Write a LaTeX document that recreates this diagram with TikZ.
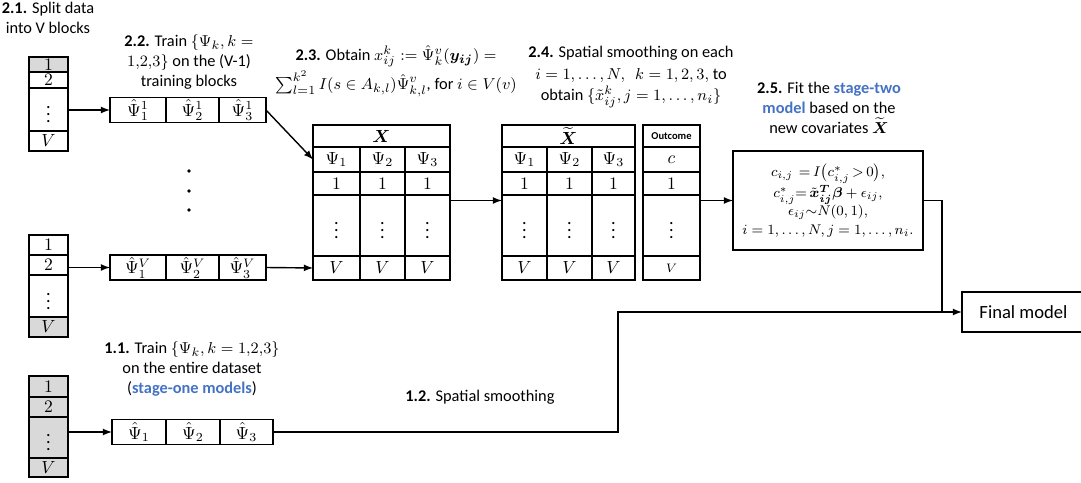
\documentclass[tikz,border=0pt]{standalone}
\usepackage{amsmath,amssymb}
\usepackage{fontspec}
\setmainfont{Carlito}
\usetikzlibrary{arrows,positioning}
\definecolor{stageblue}{RGB}{68,114,196}

\begin{document}
\begin{tikzpicture}[x=0.02cm, y=-0.02cm, line width=0.8pt,
    font=\fontsize{9.3}{11.3}\selectfont,
    cell/.style={draw, inner sep=0pt, outer sep=0pt, font=\fontsize{10.3}{12}\selectfont},
    blk/.style={cell, minimum width=0.78cm},
    est/.style={cell, minimum height=0.5cm},
    hdr/.style={cell, minimum height=0.44cm},
    rpsi/.style={cell, minimum height=0.5cm},
    rone/.style={cell, minimum height=0.46cm},
    rdots/.style={cell, minimum height=1.22cm},
    rlast/.style={cell, minimum height=0.48cm},
    grey/.style={fill=gray!30},
    lbl/.style={align=center}]
    \useasboundingbox (0,0) rectangle (1081,483);

    % data blocks
    \node[blk, grey, minimum height=0.3cm, anchor=north west] (a1) at (29,57) {$1$};
    \node[blk, minimum height=0.32cm, below=0pt of a1] (a2) {$2$};
    \node[blk, minimum height=0.86cm, below=0pt of a2] (a3) {$\vdots$};
    \node[blk, minimum height=0.4cm, below=0pt of a3] (a4) {$V$};

    \node[blk, minimum height=0.4cm, anchor=north west] (b1) at (29,235) {$1$};
    \node[blk, minimum height=0.4cm, below=0pt of b1] (b2) {$2$};
    \node[blk, minimum height=0.84cm, below=0pt of b2] (b3) {$\vdots$};
    \node[blk, grey, minimum height=0.4cm, below=0pt of b3] (b4) {$V$};

    \node[blk, grey, minimum height=0.42cm, anchor=north west] (c1) at (29,376) {$1$};
    \node[blk, grey, minimum height=0.4cm, below=0pt of c1] (c2) {$2$};
    \node[blk, grey, minimum height=0.82cm, below=0pt of c2] (c3) {$\vdots$};
    \node[blk, grey, minimum height=0.38cm, below=0pt of c3] (c4) {$V$};

    % trained models
    \node[est, minimum width=1.12cm, anchor=west] (pa1) at (110,110) {$\hat{\Psi}_1^1$};
    \node[est, minimum width=1.06cm, right=0pt of pa1] (pa2) {$\hat{\Psi}_2^1$};
    \node[est, minimum width=0.94cm, right=0pt of pa2] (pa3) {$\hat{\Psi}_3^1$};

    \node[est, minimum width=1.12cm, anchor=west] (pb1) at (110,267.5) {$\hat{\Psi}_1^V$};
    \node[est, minimum width=1.06cm, right=0pt of pb1] (pb2) {$\hat{\Psi}_2^V$};
    \node[est, minimum width=0.94cm, right=0pt of pb2] (pb3) {$\hat{\Psi}_3^V$};

    \node[est, minimum width=1.08cm, anchor=west] (pc1) at (112,432) {$\hat{\Psi}_1$};
    \node[est, minimum width=1.08cm, right=0pt of pc1] (pc2) {$\hat{\Psi}_2$};
    \node[est, minimum width=1.06cm, right=0pt of pc2] (pc3) {$\hat{\Psi}_3$};

    \fill (189,171) circle (1.1pt);
    \fill (189,191) circle (1.1pt);
    \fill (189,210) circle (1.1pt);

    % table X
    \node[hdr, minimum width=2.74cm, anchor=north west] (xh) at (313,125) {$\boldsymbol{X}$};
    \node[rpsi, minimum width=0.94cm, anchor=north west] (xp1) at (xh.south west) {$\Psi_1$};
    \node[rpsi, minimum width=0.9cm, right=0pt of xp1] (xp2) {$\Psi_2$};
    \node[rpsi, minimum width=0.9cm, right=0pt of xp2] (xp3) {$\Psi_3$};
    \node[rone, minimum width=0.94cm, anchor=north west] (xo1) at (xp1.south west) {$1$};
    \node[rone, minimum width=0.9cm, right=0pt of xo1] (xo2) {$1$};
    \node[rone, minimum width=0.9cm, right=0pt of xo2] (xo3) {$1$};
    \node[rdots, minimum width=0.94cm, anchor=north west] (xd1) at (xo1.south west) {$\vdots$};
    \node[rdots, minimum width=0.9cm, right=0pt of xd1] (xd2) {$\vdots$};
    \node[rdots, minimum width=0.9cm, right=0pt of xd2] (xd3) {$\vdots$};
    \node[rlast, minimum width=0.94cm, anchor=north west] (xv1) at (xd1.south west) {$V$};
    \node[rlast, minimum width=0.9cm, right=0pt of xv1] (xv2) {$V$};
    \node[rlast, minimum width=0.9cm, right=0pt of xv2] (xv3) {$V$};

    % table X tilde
    \node[hdr, minimum width=2.66cm, anchor=north west] (th) at (502,125) {$\widetilde{\boldsymbol{X}}$};
    \node[rpsi, minimum width=0.9cm, anchor=north west] (tp1) at (th.south west) {$\Psi_1$};
    \node[rpsi, minimum width=0.9cm, right=0pt of tp1] (tp2) {$\Psi_2$};
    \node[rpsi, minimum width=0.86cm, right=0pt of tp2] (tp3) {$\Psi_3$};
    \node[rone, minimum width=0.9cm, anchor=north west] (to1) at (tp1.south west) {$1$};
    \node[rone, minimum width=0.9cm, right=0pt of to1] (to2) {$1$};
    \node[rone, minimum width=0.86cm, right=0pt of to2] (to3) {$1$};
    \node[rdots, minimum width=0.9cm, anchor=north west] (td1) at (to1.south west) {$\vdots$};
    \node[rdots, minimum width=0.9cm, right=0pt of td1] (td2) {$\vdots$};
    \node[rdots, minimum width=0.86cm, right=0pt of td2] (td3) {$\vdots$};
    \node[rlast, minimum width=0.9cm, anchor=north west] (tv1) at (td1.south west) {$V$};
    \node[rlast, minimum width=0.9cm, right=0pt of tv1] (tv2) {$V$};
    \node[rlast, minimum width=0.86cm, right=0pt of tv2] (tv3) {$V$};

    % outcome
    \node[hdr, minimum width=1.14cm, anchor=north west, font=\fontsize{6}{7}\selectfont\bfseries] (oh) at (643,125) {Outcome};
    \node[rpsi, minimum width=1.14cm, below=0pt of oh] (op) {$c$};
    \node[rone, minimum width=1.14cm, below=0pt of op] (oo) {$1$};
    \node[rdots, minimum width=1.14cm, below=0pt of oo] (od) {$\vdots$};
    \node[rlast, minimum width=1.14cm, below=0pt of od] (ov) {$\scriptstyle V$};

    % stage-two model and final model
    \node[cell, minimum width=3.8cm, minimum height=1.98cm, anchor=north west, align=center,
        font=\fontsize{8.5}{10.4}\selectfont] (model) at (733,151)
        {\thickmuskip=3mu \medmuskip=2mu \thinmuskip=2mu
         $c_{i,j}\ = I\bigl(c^*_{i,j}>0\bigr),$\\
         $c^*_{i,j}{=}\,\tilde{\boldsymbol{x}}_{\boldsymbol{ij}}^{\boldsymbol{T}}\boldsymbol{\beta}+\epsilon_{ij},$\\
         $\epsilon_{ij}{\sim}N(0,1),$\\
         $i=1,\dots,N, j=1,\dots,n_i.$};
    \node[cell, minimum width=2.46cm, minimum height=0.8cm, anchor=west,
        font=\fontsize{10.6}{12}\selectfont] (final) at (962,312) {Final model};
    \coordinate (join) at (942,312);
    \coordinate (bend) at (618,312);

    % labels
    \node[lbl] (t21) at (48,18) {\textbf{2.1.} Split data\\into V blocks};
    \node[lbl] (t22) at (189,62) {\textbf{2.2.} Train $\{\Psi_k, k=$\\$1{,}2{,}3\}$ on the (V-1)\\training blocks};
    \node[lbl] (t23) at (396,71) {\textbf{2.3.} Obtain $x_{ij}^k := \hat{\Psi}_k^v(\boldsymbol{y_{ij}}) =$\\[1pt]$\sum_{l=1}^{k^2} I(s\in A_{k,l})\hat{\Psi}_{k,l}^v$, for $i\in V(v)$};
    \node[lbl, font=\fontsize{9.3}{12.2}\selectfont] (t24) at (631,77) {\textbf{2.4.} Spatial smoothing on each\\$i=1,\dots,N,\ \ k=1,2,3,$ to\\obtain $\{\tilde{x}_{ij}^k, j=1,\dots,n_i\}$};
    \node[lbl] (t25) at (829,108) {\textbf{2.5.} Fit the \textcolor{stageblue}{\textbf{stage-two}}\\\textcolor{stageblue}{\textbf{model}} based on the\\new covariates $\widetilde{\boldsymbol{X}}$};
    \node[lbl] (t11) at (192,369) {\textbf{1.1.} Train $\{\Psi_k, k=1{,}2{,}3\}$\\on the entire dataset\\(\textcolor{stageblue}{\textbf{stage-one models}})};
    \node[lbl] (t12) at (480,397) {\textbf{1.2.} Spatial smoothing};

    % connectors
    \draw[-latex] (pa1.west -| a3.east) -- (pa1.west);
    \draw[-latex] (pa3.east) -- (xp1.west);
    \draw[-latex] (pb1.west -| b2.east) -- (pb1.west);
    \draw[-latex] (pb3.east) -- (xv1.west);
    \draw[-latex] (xd3.east |- model.west) -- (td1.west |- model.west);
    \draw[-latex] (od.east |- model.west) -- (model.west);
    \draw (model.east) -| (join);
    \draw[-latex] (pc1.west -| c3.east) -- (pc1.west);
    \draw[-latex] (pc3.east) -| (bend) -- (final.west);
\end{tikzpicture}
\end{document}
